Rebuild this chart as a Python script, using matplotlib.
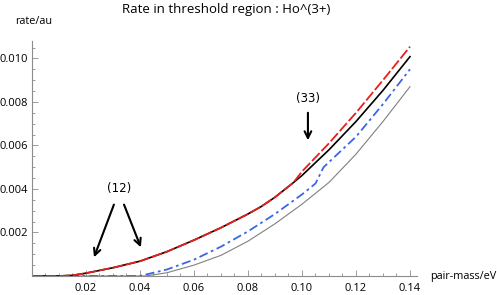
import matplotlib
matplotlib.use('Agg')
import matplotlib.pyplot as plt
from matplotlib.ticker import MultipleLocator, FixedLocator

# Data
# black and red share the same curve up to the kink near 0.097
common_x = [0, 0.01, 0.015, 0.02, 0.03, 0.04, 0.05, 0.06, 0.07, 0.08, 0.085, 0.09, 0.0968]
common_y = [0, 0, 0.00003, 0.00013, 0.00038, 0.00068, 0.00112, 0.00165, 0.00222, 0.00285, 0.00320, 0.00362, 0.00429]

black_x = [0.0968, 0.10, 0.11, 0.12, 0.13, 0.14]
black_y = [0.00429, 0.00462, 0.0058, 0.00710, 0.00853, 0.01008]

red_x = [0.0968, 0.10, 0.11, 0.12, 0.13, 0.14]
red_y = [0.00429, 0.0048, 0.0061, 0.0075, 0.0090, 0.01054]

blue_x = [0, 0.04, 0.05, 0.06, 0.07, 0.08, 0.09, 0.10, 0.105, 0.108, 0.12, 0.13, 0.14]
blue_y = [0, 0, 0.0003, 0.00075, 0.00135, 0.00205, 0.00285, 0.00375, 0.00425, 0.0050, 0.0064, 0.0079, 0.0095]

gray_x = [0, 0.042, 0.05, 0.06, 0.07, 0.08, 0.09, 0.10, 0.11, 0.12, 0.13, 0.14]
gray_y = [0, 0, 0.00015, 0.0005, 0.00095, 0.0016, 0.0024, 0.0033, 0.0043, 0.0056, 0.0071, 0.0087]

x_ticks = [0.02, 0.04, 0.06, 0.08, 0.10, 0.12, 0.14]
x_labels = ['0.02', '0.04', '0.06', '0.08', '0.10', '0.12', '0.14']
y_ticks = [0.002, 0.004, 0.006, 0.008, 0.010]
y_labels = ['0.002', '0.004', '0.006', '0.008', '0.010']

label_font = 'Open Sans'

fig = plt.figure(figsize=(4.97, 2.95), dpi=100)
ax = fig.add_axes([32 / 497, 19 / 295, 385 / 497, 235 / 295])

ax.plot(gray_x, gray_y, color='#808080', lw=0.8)
ax.plot(blue_x, blue_y, color='#3a66e8', lw=1.3, dashes=(5, 2, 1.5, 2))
ax.plot(common_x + black_x[1:], common_y + black_y[1:], color='black', lw=1.2)
ax.plot(common_x + red_x[1:], common_y + red_y[1:], color='#e8201c', lw=1.3, dashes=(6, 1.5))

ax.set_xlim(0, 0.1426)
ax.set_ylim(0, 0.0108)

for side in ['top', 'right']:
    ax.spines[side].set_visible(False)
for side in ['left', 'bottom']:
    ax.spines[side].set_color('#8c8c8c')
    ax.spines[side].set_linewidth(0.8)

ax.xaxis.set_major_locator(FixedLocator(x_ticks))
ax.set_xticklabels(x_labels)
ax.yaxis.set_major_locator(FixedLocator(y_ticks))
ax.set_yticklabels(y_labels)
ax.xaxis.set_minor_locator(MultipleLocator(0.005))
ax.yaxis.set_minor_locator(MultipleLocator(0.0005))
ax.tick_params(which='both', direction='in', color='#8c8c8c', width=0.6)
ax.tick_params(which='major', length=4)
ax.tick_params(which='minor', length=2.5)
ax.tick_params(axis='x', pad=5)
ax.tick_params(axis='y', pad=3)
for lbl in ax.get_xticklabels() + ax.get_yticklabels():
    lbl.set_family(label_font)
    lbl.set_fontsize(8)

fig.text(226 / 497, 1 - 10 / 295, 'Rate in threshold region : Ho^(3+)',
         ha='center', va='center', family=label_font, fontsize=9.5)
fig.text(34 / 497, 1 - 22 / 295, 'rate/au', ha='center', va='center',
         family=label_font, fontsize=7.8)
fig.text(430 / 497, 1 - 276 / 295, 'pair-mass/eV', ha='left', va='center',
         family=label_font, fontsize=7.8)

# arrow annotations
arrow = dict(arrowstyle='->', color='black', lw=1.5, mutation_scale=12)
ax.text(0.0322, 0.00402, '(12)', ha='center', va='center', fontsize=8.5)
ax.annotate('', xy=(0.0226, 0.00074), xytext=(0.0307, 0.0034), arrowprops=arrow)
ax.annotate('', xy=(0.0407, 0.0012), xytext=(0.0337, 0.0034), arrowprops=arrow)
ax.text(0.1022, 0.00818, '(33)', ha='center', va='center', fontsize=8.5)
ax.annotate('', xy=(0.1022, 0.00611), xytext=(0.1022, 0.00763), arrowprops=arrow)

fig.savefig('out.png', dpi=100)
